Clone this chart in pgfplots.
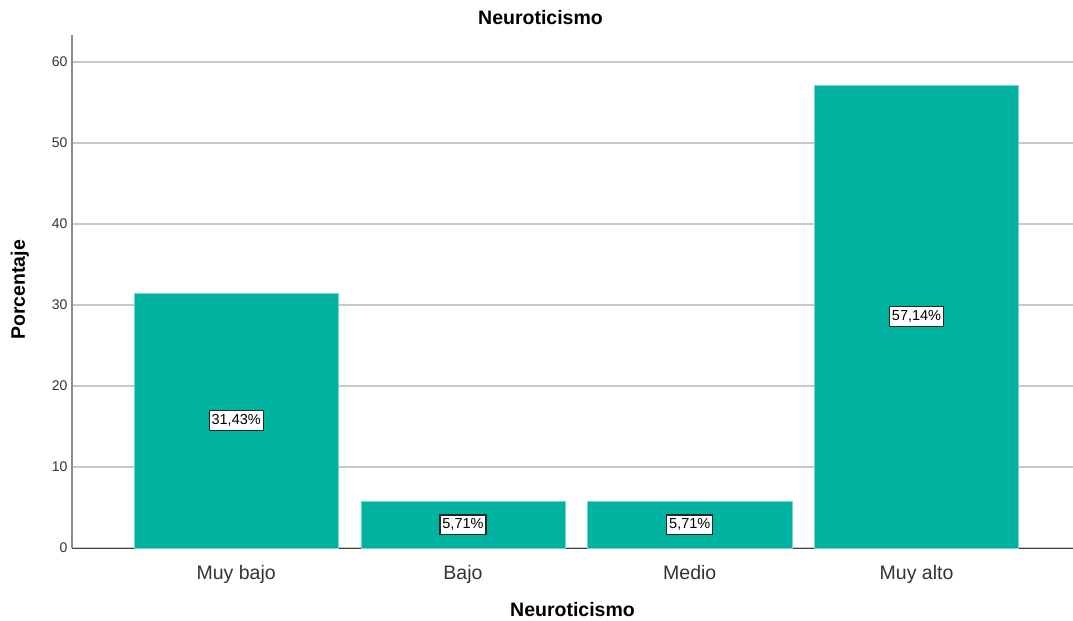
\documentclass[border=0pt]{standalone}
\usepackage{pgfplots}
\pgfplotsset{compat=1.18}
\usepackage{fontspec}
\setmainfont{Liberation Sans}
\definecolor{barc}{RGB}{0,178,160}
\definecolor{gridc}{RGB}{200,200,200}
\begin{document}
\begin{tikzpicture}
\path[use as bounding box] (0,0) rectangle (1073bp,621bp);
\begin{axis}[
  at={(72bp,73bp)}, anchor=south west,
  scale only axis, width=1001bp, height=513bp,
  xmin=-0.724, xmax=3.69, ymin=0, ymax=63.33,
  axis x line=bottom, axis y line=left,
  x axis line style={-, black!75, line width=1bp},
  y axis line style={-, black!45, line width=1.5bp},
  ymajorgrids, major grid style={gridc, line width=1.3bp},
  major tick length=0pt,
  ytick={0,10,20,30,40,50,60},
  xtick={0,1,2,3},
  xticklabels={Muy bajo,Bajo,Medio,Muy alto},
  /pgf/number format/assume math mode=true,
  yticklabel style={font=\fontsize{14bp}{16bp}\selectfont, color=black!80, xshift=-1bp},
  xticklabel style={font=\fontsize{19.5bp}{22bp}\selectfont, color=black!80, yshift=-14bp},
  title={Neuroticismo},
  title style={at={(axis description cs:0.468,1.023)}, anchor=center, font=\bfseries\fontsize{19.5bp}{22bp}\selectfont},
  xlabel={Neuroticismo},
  xlabel style={at={(axis description cs:0.5,-0.119)}, anchor=center, font=\bfseries\fontsize{19.5bp}{22bp}\selectfont},
  ylabel={Porcentaje},
  ylabel style={at={(axis description cs:-0.052,0.503)}, anchor=center, font=\bfseries\fontsize{19.5bp}{22bp}\selectfont},
  clip=false,
]
\addplot[ybar, bar width=0.9, fill=barc, draw=barc!55!white, line width=0.6bp]
  coordinates {(0,31.43) (1,5.71) (2,5.71) (3,57.14)};
\addplot[draw=none, mark=none, nodes near coords, point meta=explicit symbolic,
  every node near coord/.style={anchor=center, fill=white, draw=black!85, line width=1.2bp, inner xsep=2.5bp, inner ysep=4bp, text=black, font=\fontsize{14.5bp}{16bp}\selectfont}]
  coordinates {(0,15.715) [31,43\%] (1,2.855) [5,71\%] (2,2.855) [5,71\%] (3,28.57) [57,14\%]};
\end{axis}
\end{tikzpicture}
\end{document}
